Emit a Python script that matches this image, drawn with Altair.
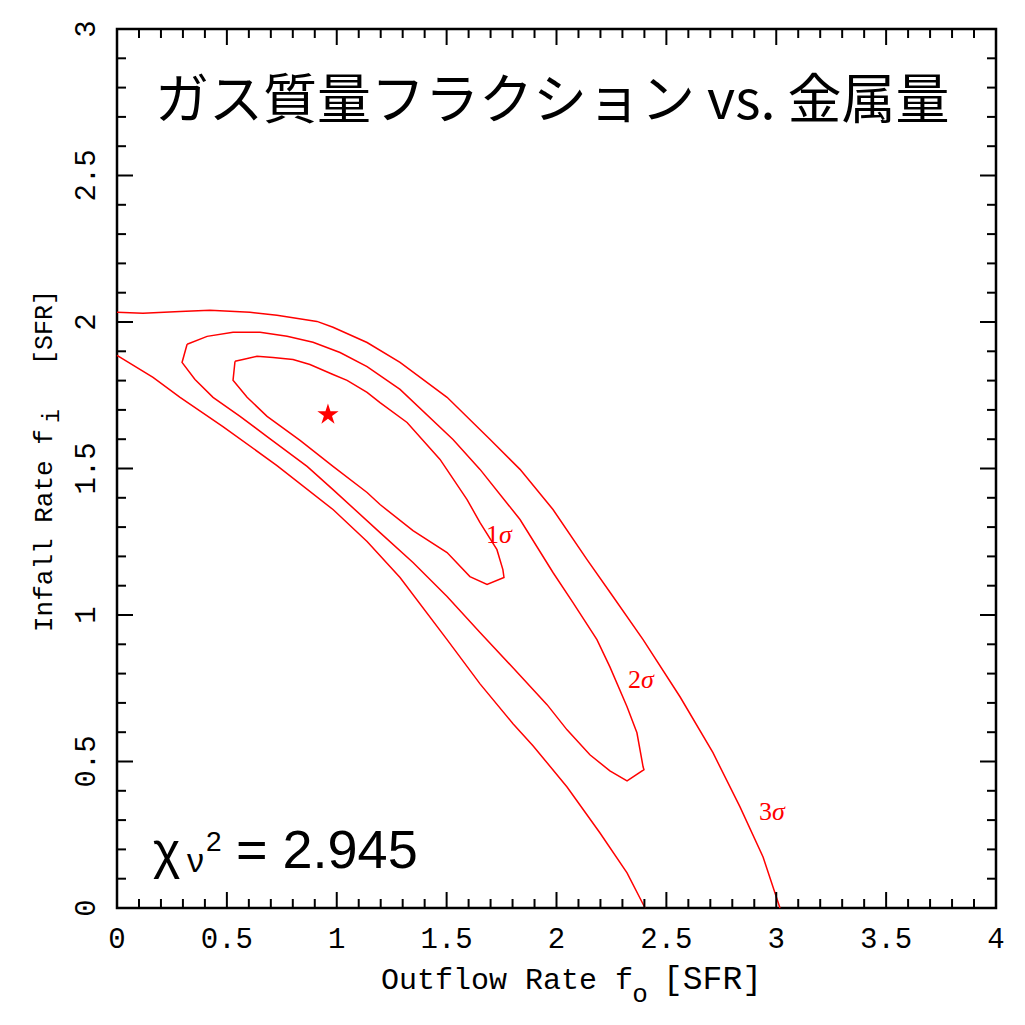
import altair as alt
import pandas as pd

# ---- contour levels of the chi-square surface (f_o, f_i) ----
# 3-sigma level, upper branch (left edge -> bottom edge)
s3_upper_fo = [0.000, 0.118, 0.287, 0.423, 0.605, 0.728, 0.910, 0.983, 1.138, 1.288,
               1.502, 1.698, 1.834, 1.984, 2.139, 2.257, 2.394, 2.562, 2.712, 2.835,
               2.940, 3.017]
s3_upper_fi = [2.033, 2.030, 2.036, 2.040, 2.033, 2.023, 2.002, 1.982, 1.930, 1.862,
               1.743, 1.599, 1.497, 1.360, 1.189, 1.063, 0.916, 0.721, 0.530, 0.345,
               0.174, 0.000]
# 3-sigma level, lower branch
s3_lower_fo = [0.000, 0.164, 0.287, 0.482, 0.728, 0.983, 1.138, 1.288, 1.502, 1.652,
               1.802, 1.893, 2.048, 2.198, 2.321, 2.403]
s3_lower_fi = [1.886, 1.811, 1.743, 1.643, 1.510, 1.360, 1.251, 1.128, 0.916, 0.765,
               0.629, 0.554, 0.413, 0.256, 0.120, 0.000]
# 2-sigma level (closed)
s2_fo = [0.319, 0.410, 0.528, 0.651, 0.774, 0.892, 1.015, 1.138, 1.288, 1.529,
         1.652, 1.834, 1.984, 2.075, 2.184, 2.243, 2.321, 2.366, 2.394, 2.398,
         2.321, 2.243, 2.152, 2.048, 1.957, 1.802, 1.652, 1.502, 1.347, 1.197,
         0.983, 0.865, 0.683, 0.560, 0.437, 0.355, 0.296, 0.319]
s2_fi = [1.924, 1.951, 1.965, 1.965, 1.951, 1.931, 1.896, 1.848, 1.770, 1.599,
         1.497, 1.326, 1.145, 1.042, 0.916, 0.823, 0.687, 0.598, 0.482, 0.472,
         0.434, 0.468, 0.523, 0.608, 0.694, 0.820, 0.940, 1.063, 1.179, 1.281,
         1.428, 1.507, 1.609, 1.678, 1.743, 1.804, 1.862, 1.924]
# 1-sigma level (closed)
s1_fo = [0.537, 0.573, 0.637, 0.710, 0.801, 0.878, 0.983, 1.047, 1.138, 1.197,
         1.320, 1.470, 1.593, 1.652, 1.729, 1.756, 1.761, 1.684, 1.606, 1.502,
         1.347, 1.197, 1.138, 0.983, 0.833, 0.683, 0.592, 0.528, 0.537]
s1_fi = [1.866, 1.872, 1.883, 1.879, 1.872, 1.855, 1.821, 1.801, 1.760, 1.725,
         1.657, 1.531, 1.394, 1.315, 1.223, 1.155, 1.128, 1.104, 1.131, 1.213,
         1.288, 1.377, 1.418, 1.507, 1.596, 1.678, 1.743, 1.801, 1.866]

# best-fit point
best_fo = [0.96]
best_fi = [1.684]

# contour labels (number + italic sigma)
sigma_num = ["1", "2", "3"]
sigma_fo = [1.734, 2.380, 2.976]
sigma_fi = [1.274, 0.779, 0.328]

# axis ticks and their labels
x_major = [0, 0.5, 1, 1.5, 2, 2.5, 3, 3.5, 4]
y_major = [0, 0.5, 1, 1.5, 2, 2.5, 3]
x_labels = ["0", "0.5", "1", "1.5", "2", "2.5", "3", "3.5", "4"]
y_labels = ["0", "0.5", "1", "1.5", "2", "2.5", "3"]
x_minor = [round(i / 10, 1) for i in range(0, 41) if i % 5 != 0]
y_minor = [round(i / 10, 1) for i in range(0, 31) if i % 5 != 0]

chi_value = "2.945"
title_text = "ガス質量フラクション vs. 金属量"

W, H = 879, 879
RED = "#ff0000"
MONO = "Liberation Mono"
STAR = ("M0,-1L0.2245,-0.309L0.951,-0.309L0.363,0.118L0.588,0.809L0,0.382"
        "L-0.588,0.809L-0.363,0.118L-0.951,-0.309L-0.2245,-0.309Z")

curves = {
    "3s_upper": (s3_upper_fo, s3_upper_fi),
    "3s_lower": (s3_lower_fo, s3_lower_fi),
    "2s": (s2_fo, s2_fi),
    "1s": (s1_fo, s1_fi),
}
rows = []
for name, (xs, ys) in curves.items():
    for k, (a, b) in enumerate(zip(xs, ys)):
        rows.append({"curve": name, "fo": a, "fi": b, "k": k})
contour_df = pd.DataFrame(rows)

xscale = alt.Scale(domain=[0, 4], nice=False)
yscale = alt.Scale(domain=[0, 3], nice=False)


def X(field):
    return alt.X(field, scale=xscale, axis=None)


def Y(field):
    return alt.Y(field, scale=yscale, axis=None)


lines = alt.Chart(contour_df).mark_line(color=RED, strokeWidth=1.5).encode(
    x=X("fo:Q"), y=Y("fi:Q"), detail="curve:N", order="k:Q",
)

star = alt.Chart(pd.DataFrame({"fo": best_fo, "fi": best_fi})).mark_point(
    shape=STAR, filled=True, color=RED, size=500, opacity=1
).encode(x=X("fo:Q"), y=Y("fi:Q"))

sig_df = pd.DataFrame({"fo": sigma_fo, "fi": sigma_fi, "n": sigma_num})
sig_num = alt.Chart(sig_df).mark_text(
    color=RED, font="Liberation Serif", fontSize=26, align="right", baseline="middle", dx=1
).encode(x=X("fo:Q"), y=Y("fi:Q"), text="n:N")
sig_sym = alt.Chart(sig_df).mark_text(
    text="σ", color=RED, font="Liberation Serif", fontSize=26, fontStyle="italic",
    align="left", baseline="middle", dx=1
).encode(x=X("fo:Q"), y=Y("fi:Q"))


# inward ticks on all four sides
def tick_layer(vals, axis, side, length):
    d = pd.DataFrame({"v": vals})
    base = alt.Chart(d).mark_rule(color="black", strokeWidth=2)
    if axis == "x":
        y0 = H if side == "bottom" else 0
        y1 = H - length if side == "bottom" else length
        return base.encode(x=X("v:Q"), y=alt.value(y0), y2=alt.value(y1))
    x0 = 0 if side == "left" else W
    x1 = length if side == "left" else W - length
    return base.encode(y=Y("v:Q"), x=alt.value(x0), x2=alt.value(x1))


ticks = [
    tick_layer(x_major, "x", "bottom", 16), tick_layer(x_minor, "x", "bottom", 9),
    tick_layer(x_major, "x", "top", 16), tick_layer(x_minor, "x", "top", 9),
    tick_layer(y_major, "y", "left", 16), tick_layer(y_minor, "y", "left", 9),
    tick_layer(y_major, "y", "right", 16), tick_layer(y_minor, "y", "right", 9),
]

# tick labels
x_tick_text = alt.Chart(pd.DataFrame({"v": x_major, "t": x_labels})).mark_text(
    font=MONO, fontSize=29, color="black", align="center", baseline="alphabetic"
).encode(x=X("v:Q"), y=alt.value(H + 40), text="t:N")

y_tick_text = alt.Chart(pd.DataFrame({"v": y_major, "t": y_labels})).mark_text(
    font=MONO, fontSize=29, color="black", align="center", baseline="alphabetic", angle=270
).encode(y=Y("v:Q"), x=alt.value(-22), text="t:N")


def label(text, x, y, size, font, align="left", baseline="alphabetic", angle=0, color="black"):
    kw = dict(text=text, fontSize=size, font=font, align=align, baseline=baseline, color=color)
    if angle:
        kw["angle"] = angle
    return alt.Chart(pd.DataFrame({"a": [0]})).mark_text(**kw).encode(
        x=alt.value(x), y=alt.value(y))


texts = [
    label(title_text, 38, 74, 54, "Noto Sans CJK JP", baseline="middle"),
    # reduced chi-square
    label("χ", 36, 839, 52, "Liberation Sans"),
    label("ν", 70, 843, 34, "Liberation Sans"),
    label("2", 89, 822, 28, "Liberation Sans"),
    label("= " + chi_value, 119, 839, 54, "Liberation Sans"),
    # x axis title
    label("Outflow Rate f", 516, 960, 30, MONO, align="right"),
    label("o", 523, 973, 26, MONO, align="center"),
    label("[SFR]", 546, 960, 33, MONO),
    # y axis title
    label("Infall Rate f", -65, 603, 26, MONO, angle=270),
    label("i", -58, 387, 23, MONO, align="center", angle=270),
    label("[SFR]", -65, 336, 25, MONO, angle=270),
]

chart = alt.layer(lines, star, sig_num, sig_sym, *ticks, x_tick_text, y_tick_text,
                  *texts).properties(
    width=W, height=H,
    padding={"left": 117, "top": 29, "right": 29, "bottom": 117},
    autosize="none",
    background="white",
).configure_view(stroke="black", strokeWidth=2.5)

chart.save("out.html", embed_options={"renderer": "svg", "actions": False})
